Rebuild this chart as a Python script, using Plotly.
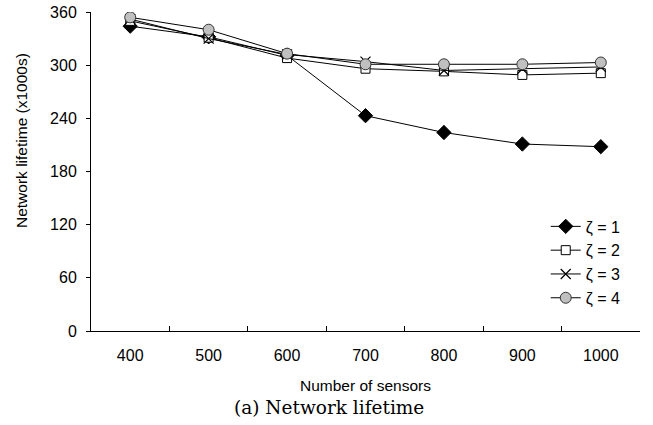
import plotly.graph_objects as go

# Network lifetime vs. number of deployed sensors, for each value of zeta
sensors = ["400", "500", "600", "700", "800", "900", "1000"]
lifetime_z1 = [344, 332, 311, 243, 224, 211, 208]
lifetime_z2 = [350, 331, 308, 296, 293, 289, 291]
lifetime_z3 = [352, 330, 312, 304, 294, 296, 298]
lifetime_z4 = [354, 340, 313, 301, 301, 301, 303]
series_names = ["ζ = 1", "ζ = 2", "ζ = 3", "ζ = 4"]
y_ticks = [0, 60, 120, 180, 240, 300, 360]

markers = [
    dict(symbol="diamond", size=11, color="black", line=dict(color="black", width=1)),
    dict(symbol="square", size=9, color="white", line=dict(color="black", width=1)),
    dict(symbol="x-thin", size=10, color="black", line=dict(color="black", width=1.2)),
    dict(symbol="circle", size=11, color="#c0c0c0", line=dict(color="#333333", width=1)),
]

fig = go.Figure()
for i, (name, vals) in enumerate(zip(series_names, [lifetime_z1, lifetime_z2, lifetime_z3, lifetime_z4])):
    fig.add_trace(go.Scatter(
        x=sensors, y=vals, name=name, mode="lines+markers",
        line=dict(color="black", width=1),
        marker=markers[i],
    ))

axis_font = dict(family="Liberation Sans, Arial, sans-serif", size=16, color="black")
title_font = dict(family="Liberation Sans, Arial, sans-serif", size=15.5, color="black")

# plot area spans 91..640 px horizontally and 12..331 px vertically
plot_w, plot_h = 549, 319

fig.update_layout(
    width=653, height=425,
    margin=dict(l=91, r=13, t=12, b=94, autoexpand=False),
    plot_bgcolor="white", paper_bgcolor="white",
    font=axis_font,
    showlegend=True,
    legend=dict(
        x=0.974, y=0.381, xanchor="right", yanchor="top",
        bgcolor="rgba(0,0,0,0)",
        font=dict(family="Liberation Sans, Arial, sans-serif", size=16),
        tracegroupgap=0, itemwidth=30,
    ),
    xaxis=dict(
        type="category", tickson="boundaries", ticks="inside", ticklen=5,
        tickcolor="black", showline=True, linecolor="black", linewidth=1,
        showgrid=False, zeroline=False, range=[-0.5, 6.5], automargin=False,
        ticklabelstandoff=10,
        title=dict(text="Number of sensors", font=title_font, standoff=16),
        tickfont=axis_font,
    ),
    yaxis=dict(
        range=[0, 360], tickvals=y_ticks, ticks="outside", ticklen=4,
        tickcolor="black", showline=True, linecolor="black", linewidth=1,
        showgrid=False, zeroline=False, automargin=False,
        ticklabelstandoff=6,
        tickfont=axis_font,
    ),
    annotations=[
        dict(
            text="Network lifetime (x1000s)", xref="paper", yref="paper",
            x=(21 - 91) / plot_w, y=(331 - 141) / plot_h,
            xanchor="center", yanchor="middle", textangle=-90,
            showarrow=False, font=title_font,
        ),
        dict(
            text="(a) Network lifetime", xref="paper", yref="paper",
            x=(329 - 91) / plot_w, y=-(407 - 331) / plot_h,
            xanchor="center", yanchor="middle", showarrow=False,
            font=dict(family="DejaVu Serif, Liberation Serif, serif", size=18.5, color="black"),
        ),
    ],
)

fig.write_html("out.html")
